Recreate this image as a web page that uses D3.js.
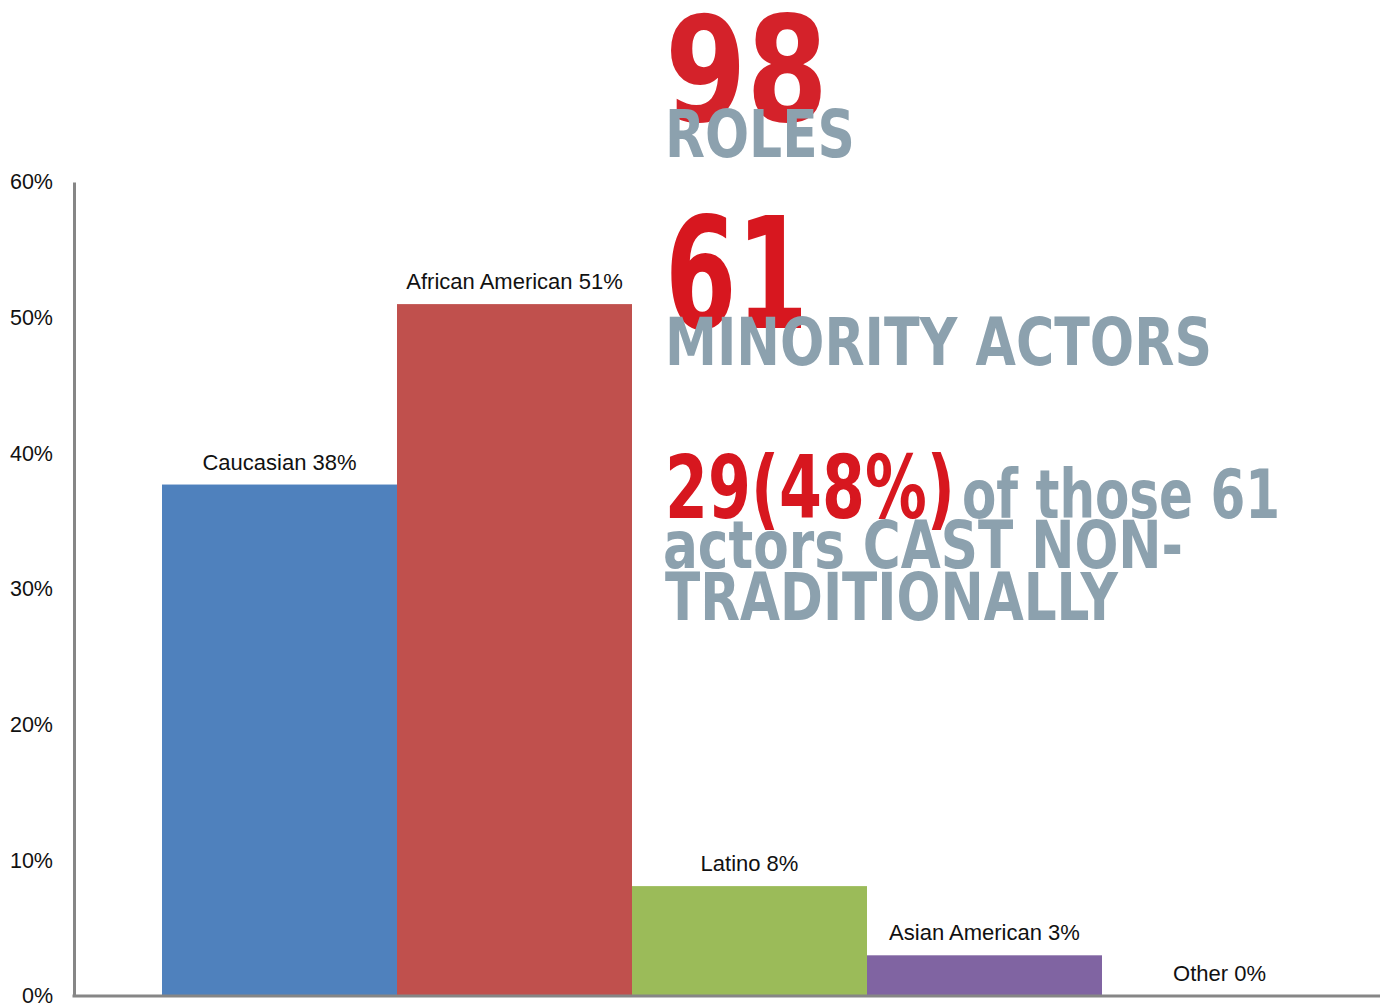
<!DOCTYPE html>
<html>
<head>
<meta charset="utf-8">
<script src="https://cdn.jsdelivr.net/npm/d3@7.9.0/dist/d3.min.js"></script>
<style>
  body { margin: 0; background: #fff; }
  svg { display: block; }
</style>
</head>
<body>
<svg id="chart" width="1380" height="1006"></svg>
<script>
// data
const categories = ['Caucasian', 'African American', 'Latino', 'Asian American', 'Other'];
const shares = [37.7, 51.0, 8.1, 3.0, 0];
const labels = ['Caucasian 38%', 'African American 51%', 'Latino 8%', 'Asian American 3%', 'Other 0%'];
const colors = ['#4f81bd', '#c0504d', '#9bbb59', '#8064a2', '#4bacc6'];
const yTicks = [0, 10, 20, 30, 40, 50, 60];

const width = 1380;
const height = 1006;
const margin = { top: 182, bottom: 10, left: 74 };

const svg = d3.select('#chart');

const x = d3.scaleBand()
  .domain(categories)
  .range([162, 162 + 5 * 235])
  .padding(0);

const y = d3.scaleLinear()
  .domain([0, 60])
  .range([height - margin.bottom, margin.top]);

// bars
svg.append('g')
  .selectAll('rect')
  .data(categories)
  .join('rect')
  .attr('x', d => x(d))
  .attr('width', x.bandwidth())
  .attr('y', (d, i) => y(shares[i]))
  .attr('height', (d, i) => y(0) - y(shares[i]))
  .attr('fill', (d, i) => colors[i]);

// value labels
svg.append('g')
  .selectAll('text')
  .data(categories)
  .join('text')
  .attr('x', d => x(d) + x.bandwidth() / 2)
  .attr('y', (d, i) => y(shares[i]) - 15)
  .attr('text-anchor', 'middle')
  .style('font-family', 'Liberation Sans, Arial, sans-serif')
  .style('font-size', '22px')
  .style('fill', '#111')
  .text((d, i) => labels[i]);

// y axis
const yAxis = svg.append('g')
  .attr('transform', `translate(${margin.left},0)`)
  .call(d3.axisLeft(y).tickValues(yTicks).tickFormat(d => d + '%').tickSize(0).tickSizeOuter(0).tickPadding(21));
yAxis.select('.domain').attr('stroke', '#868686').attr('stroke-width', 3);
yAxis.selectAll('text')
  .style('font-family', 'Liberation Sans, Arial, sans-serif')
  .style('font-size', '21.5px')
  .style('fill', '#111');

// x baseline
svg.append('line')
  .attr('x1', margin.left - 1.5)
  .attr('x2', width)
  .attr('y1', y(0))
  .attr('y2', y(0))
  .attr('stroke', '#868686')
  .attr('stroke-width', 3);

// headline text block
const red = '#d4222a';
const gray = '#8ca1ae';
const headFont = 'DejaVu Sans Condensed, DejaVu Sans, sans-serif';

function bigText(str, xPos, yPos, size, len, fill) {
  return svg.append('text')
    .attr('x', xPos)
    .attr('y', yPos)
    .attr('textLength', len)
    .attr('lengthAdjust', 'spacingAndGlyphs')
    .style('font-family', headFont)
    .style('font-weight', 'bold')
    .style('font-size', size + 'px')
    .style('fill', fill)
    .text(str);
}

bigText('98', 665, 121, 146, 163, red);
bigText('ROLES', 665, 157, 65, 190, gray);
bigText('61', 665, 328, 155, 143, '#d7171f');
bigText('MINORITY ACTORS', 665, 365, 65, 547, gray);
bigText('29(48%)', 665, 518, 87, 290, '#d7171f');
bigText('of those 61', 962, 518, 68, 318, gray);
bigText('actors CAST NON-', 663, 568, 65, 520, gray);
bigText('TRADITIONALLY', 665, 620, 65, 453, gray);
</script>
</body>
</html>
